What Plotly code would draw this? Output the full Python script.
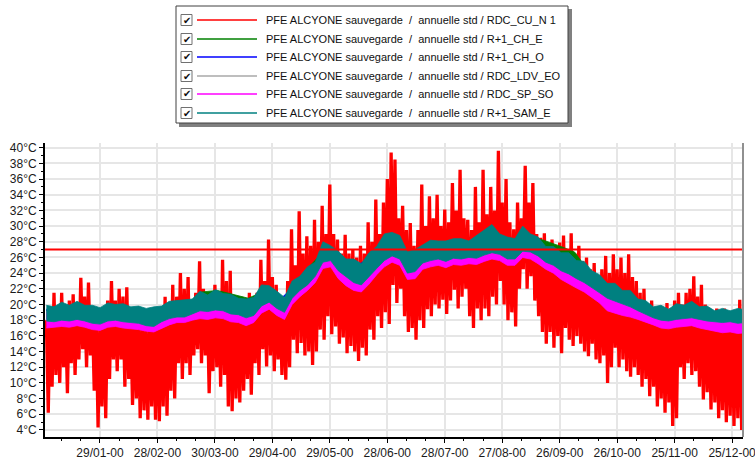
import numpy as np
import pandas as pd
import plotly.graph_objects as go

# RDC_CU_N 1 : swing read every 2 days (max / min) over the year
red_max = [
    18.0, 19.5, 21.5, 19.0, 21.5, 19.0, 20.5, 21.3, 20.0, 23.4,
    21.0, 22.8, 19.5, 18.5, 18.0, 19.0, 20.5, 23.0, 20.5, 22.0,
    21.0, 22.2, 19.0, 18.5, 18.0, 18.5, 17.5, 18.5, 18.0, 19.5,
    19.0, 21.0, 20.0, 22.5, 21.0, 24.0, 22.0, 23.5, 20.0, 21.5,
    25.5, 22.0, 21.0, 20.0, 22.5, 21.5, 25.7, 23.0, 24.3, 21.0,
    20.0, 21.0, 20.0, 21.5, 20.0, 21.5, 25.7, 23.0, 28.3, 23.5,
    22.5, 21.0, 21.0, 23.0, 29.6, 25.0, 31.9, 26.5, 28.7, 27.5,
    30.8, 28.0, 32.6, 29.0, 35.3, 29.0, 28.3, 26.5, 28.9, 26.5,
    27.0, 26.0, 27.5, 26.5, 30.5, 28.0, 33.4, 29.0, 33.0, 36.0,
    39.4, 38.5, 31.0, 32.6, 29.5, 30.4, 27.5, 29.5, 35.3, 30.0,
    33.8, 31.0, 34.0, 30.0, 32.1, 30.5, 35.5, 32.0, 37.2, 31.0,
    30.8, 29.5, 35.0, 30.5, 37.2, 31.5, 35.0, 32.0, 39.6, 33.0,
    36.0, 30.5, 29.6, 33.0, 31.0, 37.7, 33.0, 35.5, 29.0, 28.5,
    29.1, 27.5, 28.3, 27.0, 27.9, 28.8, 27.0, 29.1, 26.5, 27.5,
    25.5, 26.0, 24.5, 25.3, 23.5, 24.5, 26.2, 24.0, 26.4, 24.5,
    26.0, 24.0, 26.4, 23.5, 23.0, 21.5, 22.0, 20.0, 20.5, 19.5,
    19.8, 19.5, 20.2, 19.5, 20.5, 21.5, 20.0, 21.5, 22.0, 23.6,
    21.0, 22.5, 20.0, 19.5, 19.0, 19.5, 18.5, 19.5, 18.5, 19.0,
    18.5, 20.6, 19.0,
]
red_min = [
    6.2, 9.5, 11.0, 10.0, 12.0, 8.7, 12.5, 11.0, 13.0, 14.3,
    12.0, 13.5, 9.0, 4.3, 7.0, 5.5, 10.5, 13.0, 11.5, 13.0,
    9.5, 10.5, 7.2, 8.0, 5.5, 6.5, 5.3, 7.0, 5.3, 5.1,
    7.0, 5.8, 9.0, 8.0, 12.5, 10.5, 12.5, 11.0, 13.5, 14.3,
    12.5, 13.5, 8.7, 11.5, 12.0, 9.5, 11.0, 7.0, 6.4, 8.0,
    7.5, 9.0, 10.5, 8.5, 12.5, 11.0, 14.3, 12.1, 13.5, 11.5,
    13.0, 11.0, 10.4, 12.0, 15.5, 13.8, 15.1, 13.5, 14.0, 12.3,
    14.0, 16.8, 15.5, 18.5, 16.2, 17.2, 15.0, 15.8, 13.8, 14.7,
    14.0, 12.8, 14.5, 13.5, 16.8, 15.5, 18.5, 17.0, 19.0, 17.5,
    22.5, 20.2, 22.0, 18.5, 16.5, 17.0, 15.5, 18.0, 17.0, 19.4,
    18.5, 20.0, 19.5, 20.6, 18.8, 20.5, 21.9, 19.5, 21.0, 22.0,
    18.5, 17.0, 19.5, 18.0, 19.5, 18.5, 21.0, 20.0, 23.0, 20.0,
    18.0, 19.0, 17.2, 22.0, 24.5, 22.0, 23.6, 20.5, 18.5, 16.5,
    15.0, 16.5, 14.5, 16.0, 13.8, 17.0, 15.5, 14.7, 16.0, 15.0,
    14.0, 13.4, 15.0, 13.0, 12.5, 13.5, 10.0, 12.0, 14.5, 12.0,
    13.0, 11.5, 10.8, 12.0, 11.0, 9.5, 10.5, 8.3, 9.5, 7.0,
    8.0, 6.2, 7.5, 4.5, 5.5, 12.0, 10.5, 12.5, 11.0, 11.5,
    9.5, 7.9, 8.8, 6.6, 7.5, 5.5, 6.5, 5.0, 5.8, 4.5,
    5.5, 4.0, 6.0,
]

# R+1_SAM_E and RDC_SP_SO : band read every 4 days
teal_hi = [
    19.9, 19.7, 20.3, 19.9, 20.4, 19.9, 19.9, 19.6, 20.2, 20.0,
    20.1, 19.7, 19.8, 19.5, 19.7, 19.8, 20.4, 20.5, 20.6, 20.7,
    21.7, 21.2, 21.9, 21.4, 21.3, 20.8, 20.7, 20.9, 22.5, 22.4,
    21.7, 20.9, 23.0, 23.6, 24.8, 25.4, 28.0, 27.5, 26.8, 25.8,
    25.8, 25.2, 26.6, 27.4, 29.0, 29.2, 28.8, 26.7, 27.0, 27.6,
    28.2, 28.1, 28.1, 28.4, 28.4, 28.1, 28.8, 29.4, 30.2, 29.0,
    28.6, 28.4, 30.0, 29.0, 28.6, 27.4, 27.4, 26.6, 26.6, 25.6,
    25.5, 24.3, 23.8, 22.7, 22.7, 21.8, 21.8, 20.7, 20.5, 19.7,
    19.9, 19.4, 20.1, 19.9, 20.4, 19.7, 19.8, 19.2, 19.5, 19.2,
    19.5, 19.3,
]
teal_lo = [
    17.9, 17.8, 18.0, 17.9, 18.1, 17.9, 17.6, 17.5, 17.9, 18.0,
    17.8, 17.7, 17.6, 17.3, 17.2, 17.8, 18.2, 18.4, 18.4, 18.8,
    19.2, 19.1, 19.3, 19.2, 18.8, 18.7, 18.3, 18.6, 19.8, 20.3,
    19.5, 19.0, 20.8, 21.8, 22.5, 23.6, 25.4, 25.6, 24.3, 23.5,
    22.8, 22.5, 23.5, 24.6, 25.6, 26.2, 25.8, 24.0, 24.2, 25.3,
    25.6, 25.8, 25.5, 25.9, 25.8, 26.0, 25.9, 26.3, 26.6, 26.4,
    25.8, 25.8, 26.8, 26.7, 26.2, 25.4, 25.0, 24.3, 23.9, 23.3,
    22.8, 22.2, 21.5, 20.8, 20.4, 20.1, 19.7, 19.2, 18.7, 18.3,
    18.0, 17.9, 18.1, 18.2, 18.3, 18.1, 17.9, 17.8, 17.7, 17.8,
    17.6, 17.7,
]
magenta_hi = [
    18.9, 19.0, 19.3, 19.1, 19.4, 19.1, 18.9, 18.8, 19.2, 19.3,
    19.0, 18.9, 18.8, 18.6, 18.5, 19.0, 19.4, 19.7, 19.5, 19.9,
    20.6, 20.5, 20.8, 20.6, 20.2, 20.0, 19.7, 20.0, 21.3, 21.6,
    20.6, 20.1, 21.8, 22.8, 23.6, 24.6, 26.8, 26.8, 25.6, 25.0,
    24.6, 24.4, 25.4, 26.6, 27.8, 28.4, 27.6, 25.9, 25.8, 26.8,
    27.0, 27.3, 26.9, 27.6, 27.2, 27.3, 27.6, 28.6, 29.0, 28.2,
    27.4, 27.6, 28.8, 28.2, 27.4, 26.6, 26.2, 25.8, 25.4, 24.8,
    24.3, 23.5, 22.6, 21.9, 21.5, 21.0, 20.6, 19.9, 19.3, 18.9,
    18.7, 18.6, 18.9, 19.1, 19.2, 18.9, 18.6, 18.4, 18.3, 18.4,
    18.3, 18.4,
]
magenta_lo = [
    17.0, 17.1, 17.2, 17.1, 17.3, 17.1, 16.8, 16.7, 17.1, 17.2,
    17.0, 16.9, 16.8, 16.6, 16.5, 17.0, 17.4, 17.7, 17.7, 18.0,
    18.2, 18.1, 18.3, 18.2, 17.8, 17.7, 17.3, 17.7, 18.9, 19.4,
    18.6, 18.1, 20.0, 21.0, 21.8, 22.8, 24.6, 24.8, 23.3, 22.4,
    21.8, 21.6, 22.6, 23.8, 24.8, 25.4, 25.0, 23.2, 23.3, 24.5,
    24.8, 25.0, 24.7, 25.1, 25.0, 25.2, 25.1, 25.5, 25.8, 25.6,
    25.0, 25.0, 26.0, 25.8, 25.2, 24.5, 24.0, 23.2, 22.7, 22.1,
    21.6, 20.9, 20.2, 19.2, 18.9, 18.6, 18.4, 18.1, 17.8, 17.4,
    17.0, 16.9, 17.1, 17.2, 17.3, 17.0, 16.8, 16.6, 16.4, 16.5,
    16.3, 16.4,
]

# R+1_CH_E, R+1_CH_O, RDC_LDV_EO : band read every 8 days (mostly hidden)
green_hi = [
    19.3, 19.5, 19.6, 19.3, 19.5, 19.4, 19.2, 19.2, 19.8, 20.0,
    21.6, 21.8, 21.3, 20.8, 21.7, 20.5, 22.3, 25.0, 27.1, 25.5,
    24.9, 26.0, 28.3, 26.4, 26.4, 27.7, 27.7, 27.7, 28.3, 28.7,
    28.1, 28.7, 28.2, 27.5, 26.7, 24.0, 22.4, 21.5, 20.4, 19.4,
    19.1, 19.6, 19.4, 18.9, 18.9, 18.8,
]
green_lo = [
    18.3, 18.4, 18.5, 18.0, 18.4, 18.2, 18.0, 17.7, 18.6, 18.9,
    19.6, 19.7, 19.2, 18.8, 20.2, 19.4, 21.2, 22.9, 25.9, 24.6,
    23.2, 24.0, 26.0, 26.2, 24.6, 26.0, 26.0, 26.3, 26.4, 27.0,
    26.2, 27.2, 26.6, 25.4, 24.3, 23.2, 21.9, 20.8, 20.1, 19.1,
    18.4, 18.6, 18.7, 18.3, 18.1, 18.0,
]
blue_hi = [
    19.4, 19.6, 19.7, 19.4, 19.6, 19.5, 19.3, 19.3, 19.9, 20.1,
    20.9, 20.9, 20.4, 20.3, 21.8, 20.6, 22.4, 24.4, 27.2, 25.6,
    25.0, 26.1, 28.4, 26.5, 26.5, 27.8, 27.8, 27.8, 28.4, 28.8,
    28.2, 28.8, 27.2, 26.6, 25.4, 24.1, 22.5, 21.6, 20.5, 19.5,
    19.2, 19.7, 19.5, 19.0, 19.0, 18.9,
]
blue_lo = [
    18.2, 18.3, 18.4, 17.9, 18.3, 18.1, 17.9, 17.6, 18.5, 18.7,
    19.5, 19.6, 19.1, 18.7, 20.1, 19.3, 21.1, 22.8, 25.7, 24.4,
    23.0, 23.8, 25.9, 26.1, 24.4, 25.9, 25.8, 26.1, 26.2, 26.8,
    26.0, 27.0, 26.4, 25.2, 24.1, 23.0, 21.7, 20.6, 19.9, 18.9,
    18.2, 18.4, 18.5, 18.1, 17.9, 17.8,
]
gray_hi = [
    19.1, 19.3, 19.4, 19.1, 19.3, 19.2, 19.0, 19.0, 19.6, 19.8,
    20.6, 20.6, 20.1, 20.0, 21.5, 20.3, 22.1, 24.1, 26.9, 25.3,
    24.7, 25.8, 28.1, 26.2, 26.2, 27.5, 27.5, 27.5, 28.1, 28.5,
    27.9, 28.5, 26.9, 26.3, 25.1, 23.8, 22.2, 21.3, 20.2, 19.2,
    18.9, 19.4, 19.2, 18.7, 18.7, 18.6,
]
gray_lo = [
    18.3, 18.4, 18.5, 18.0, 18.4, 18.2, 18.0, 17.7, 18.6, 18.8,
    19.6, 19.7, 19.2, 18.8, 20.2, 19.4, 21.2, 22.9, 25.8, 24.5,
    23.1, 23.9, 26.0, 26.2, 24.5, 26.0, 25.9, 26.2, 26.3, 26.9,
    26.1, 27.1, 26.5, 25.3, 24.2, 23.1, 21.8, 20.7, 20.0, 19.0,
    18.3, 18.5, 18.6, 18.2, 18.0, 17.9,
]

threshold = 27
prefix = "PFE ALCYONE sauvegarde\u00a0\u00a0/\u00a0\u00a0annuelle std / "
zones = ["RDC_CU_N 1", "R+1_CH_E", "R+1_CH_O", "RDC_LDV_EO", "RDC_SP_SO", "R+1_SAM_E"]
colors = ["#ff0000", "#008000", "#0000ff", "#a8a8a8", "#ff00ff", "#008080"]

# typical (non-leap) year, labelled "-00" by the software
start = pd.Timestamp("2001-01-01")
YEAR_DAYS = 365


def dates(days):
    return start + pd.to_timedelta(days, unit="D")


def zigzag(hi, lo):
    # one stroke up to the max, one down to the min, like an hourly trace
    d = np.linspace(0, YEAR_DAYS, 2 * len(hi))
    y = np.empty(2 * len(hi))
    y[0::2] = hi
    y[1::2] = lo
    return dates(d), y


def band(hi, lo):
    d = np.linspace(0, YEAR_DAYS, len(hi))
    x = dates(np.concatenate([d, d[::-1]]))
    y = np.concatenate([np.array(hi), np.array(lo)[::-1]])
    return x, y


fig = go.Figure()

x, y = zigzag(red_max, red_min)
fig.add_trace(go.Scatter(x=x, y=y, mode="lines", line=dict(color=colors[0], width=3.3),
                         name=prefix + zones[0]))

series = [(green_hi, green_lo, 1), (blue_hi, blue_lo, 2), (gray_hi, gray_lo, 3),
          (magenta_hi, magenta_lo, 4), (teal_hi, teal_lo, 5)]
for hi, lo, k in series:
    x, y = band(hi, lo)
    fig.add_trace(go.Scatter(x=x, y=y, mode="lines", fill="toself", fillcolor=colors[k],
                             line=dict(color=colors[k], width=0.8), name=prefix + zones[k]))

fig.add_hline(y=threshold, line=dict(color="#ff0000", width=2))

# plot area in pixels: x 45..743, y 143..437
L, R, T, B = 45, 12, 143, 22
PW, PH = 755 - L - R, 459 - T - B


def px(v):
    return (v - L) / PW


def py(v):
    return (459 - B - v) / PH


shapes = []
annotations = []
shapes.append(dict(type="line", xref="paper", yref="paper", x0=0, x1=1, y0=1, y1=1,
                   line=dict(color="#404040", width=1)))
shapes.append(dict(type="line", xref="paper", yref="paper", x0=1, x1=1, y0=0, y1=1,
                   line=dict(color="#909090", width=2)))

# legend box with shadow
shapes.append(dict(type="rect", xref="paper", yref="paper", x0=px(179), x1=px(572),
                   y0=py(9), y1=py(127), fillcolor="#808080", line=dict(width=0)))
shapes.append(dict(type="rect", xref="paper", yref="paper", x0=px(176), x1=px(568),
                   y0=py(6), y1=py(123), fillcolor="white", line=dict(color="#404040", width=1)))
rows = [20, 39, 57, 76, 94, 113]
for i, c in enumerate(rows):
    shapes.append(dict(type="rect", xref="paper", yref="paper", x0=px(181), x1=px(192),
                       y0=py(c - 5.5), y1=py(c + 5.5), fillcolor="white",
                       line=dict(color="#707070", width=1)))
    annotations.append(dict(x=px(186.5), y=py(c), xref="paper", yref="paper", text="\u2714",
                            showarrow=False, font=dict(size=10, color="#101010", family="DejaVu Sans"),
                            xanchor="center", yanchor="middle"))
    shapes.append(dict(type="line", xref="paper", yref="paper", x0=px(197), x1=px(257),
                       y0=py(c), y1=py(c), line=dict(color=colors[i], width=1.5)))
    annotations.append(dict(x=px(264), y=py(c), xref="paper", yref="paper",
                            text=prefix + zones[i], showarrow=False,
                            font=dict(size=11, color="#101010", family="Liberation Sans"),
                            xanchor="left", yanchor="middle"))

fig.update_layout(
    width=755, height=459,
    margin=dict(l=L, r=R, t=T, b=B, autoexpand=False),
    paper_bgcolor="white", plot_bgcolor="white",
    showlegend=False,
    font=dict(family="Liberation Sans", size=12, color="#1a1a1a"),
    shapes=shapes, annotations=annotations,
    xaxis=dict(
        type="date", range=[dates(-0.7), dates(363.7)],
        tick0="2001-01-29", dtick=30 * 86400000, tickformat="%d/%m-00",
        ticks="outside", ticklen=4, tickcolor="black", ticklabeloverflow="allow",
        minor=dict(dtick=10 * 86400000, tick0="2001-01-29", ticks="outside", ticklen=2,
                   tickcolor="black", showgrid=False),
        showgrid=True, gridcolor="#e6e6e6", gridwidth=2,
        showline=True, linecolor="black", linewidth=2, zeroline=False,
    ),
    yaxis=dict(
        range=[3.1, 40.6], tick0=0, dtick=2, ticksuffix="°C",
        ticks="outside", ticklen=4, tickcolor="black",
        minor=dict(dtick=1, ticks="outside", ticklen=2, tickcolor="black", showgrid=False),
        showgrid=True, gridcolor="#e6e6e6", gridwidth=2,
        showline=True, linecolor="black", linewidth=2, zeroline=False,
    ),
)

fig.write_html("out.html", config={"displayModeBar": False},
               post_script="document.body.style.margin='0';")
